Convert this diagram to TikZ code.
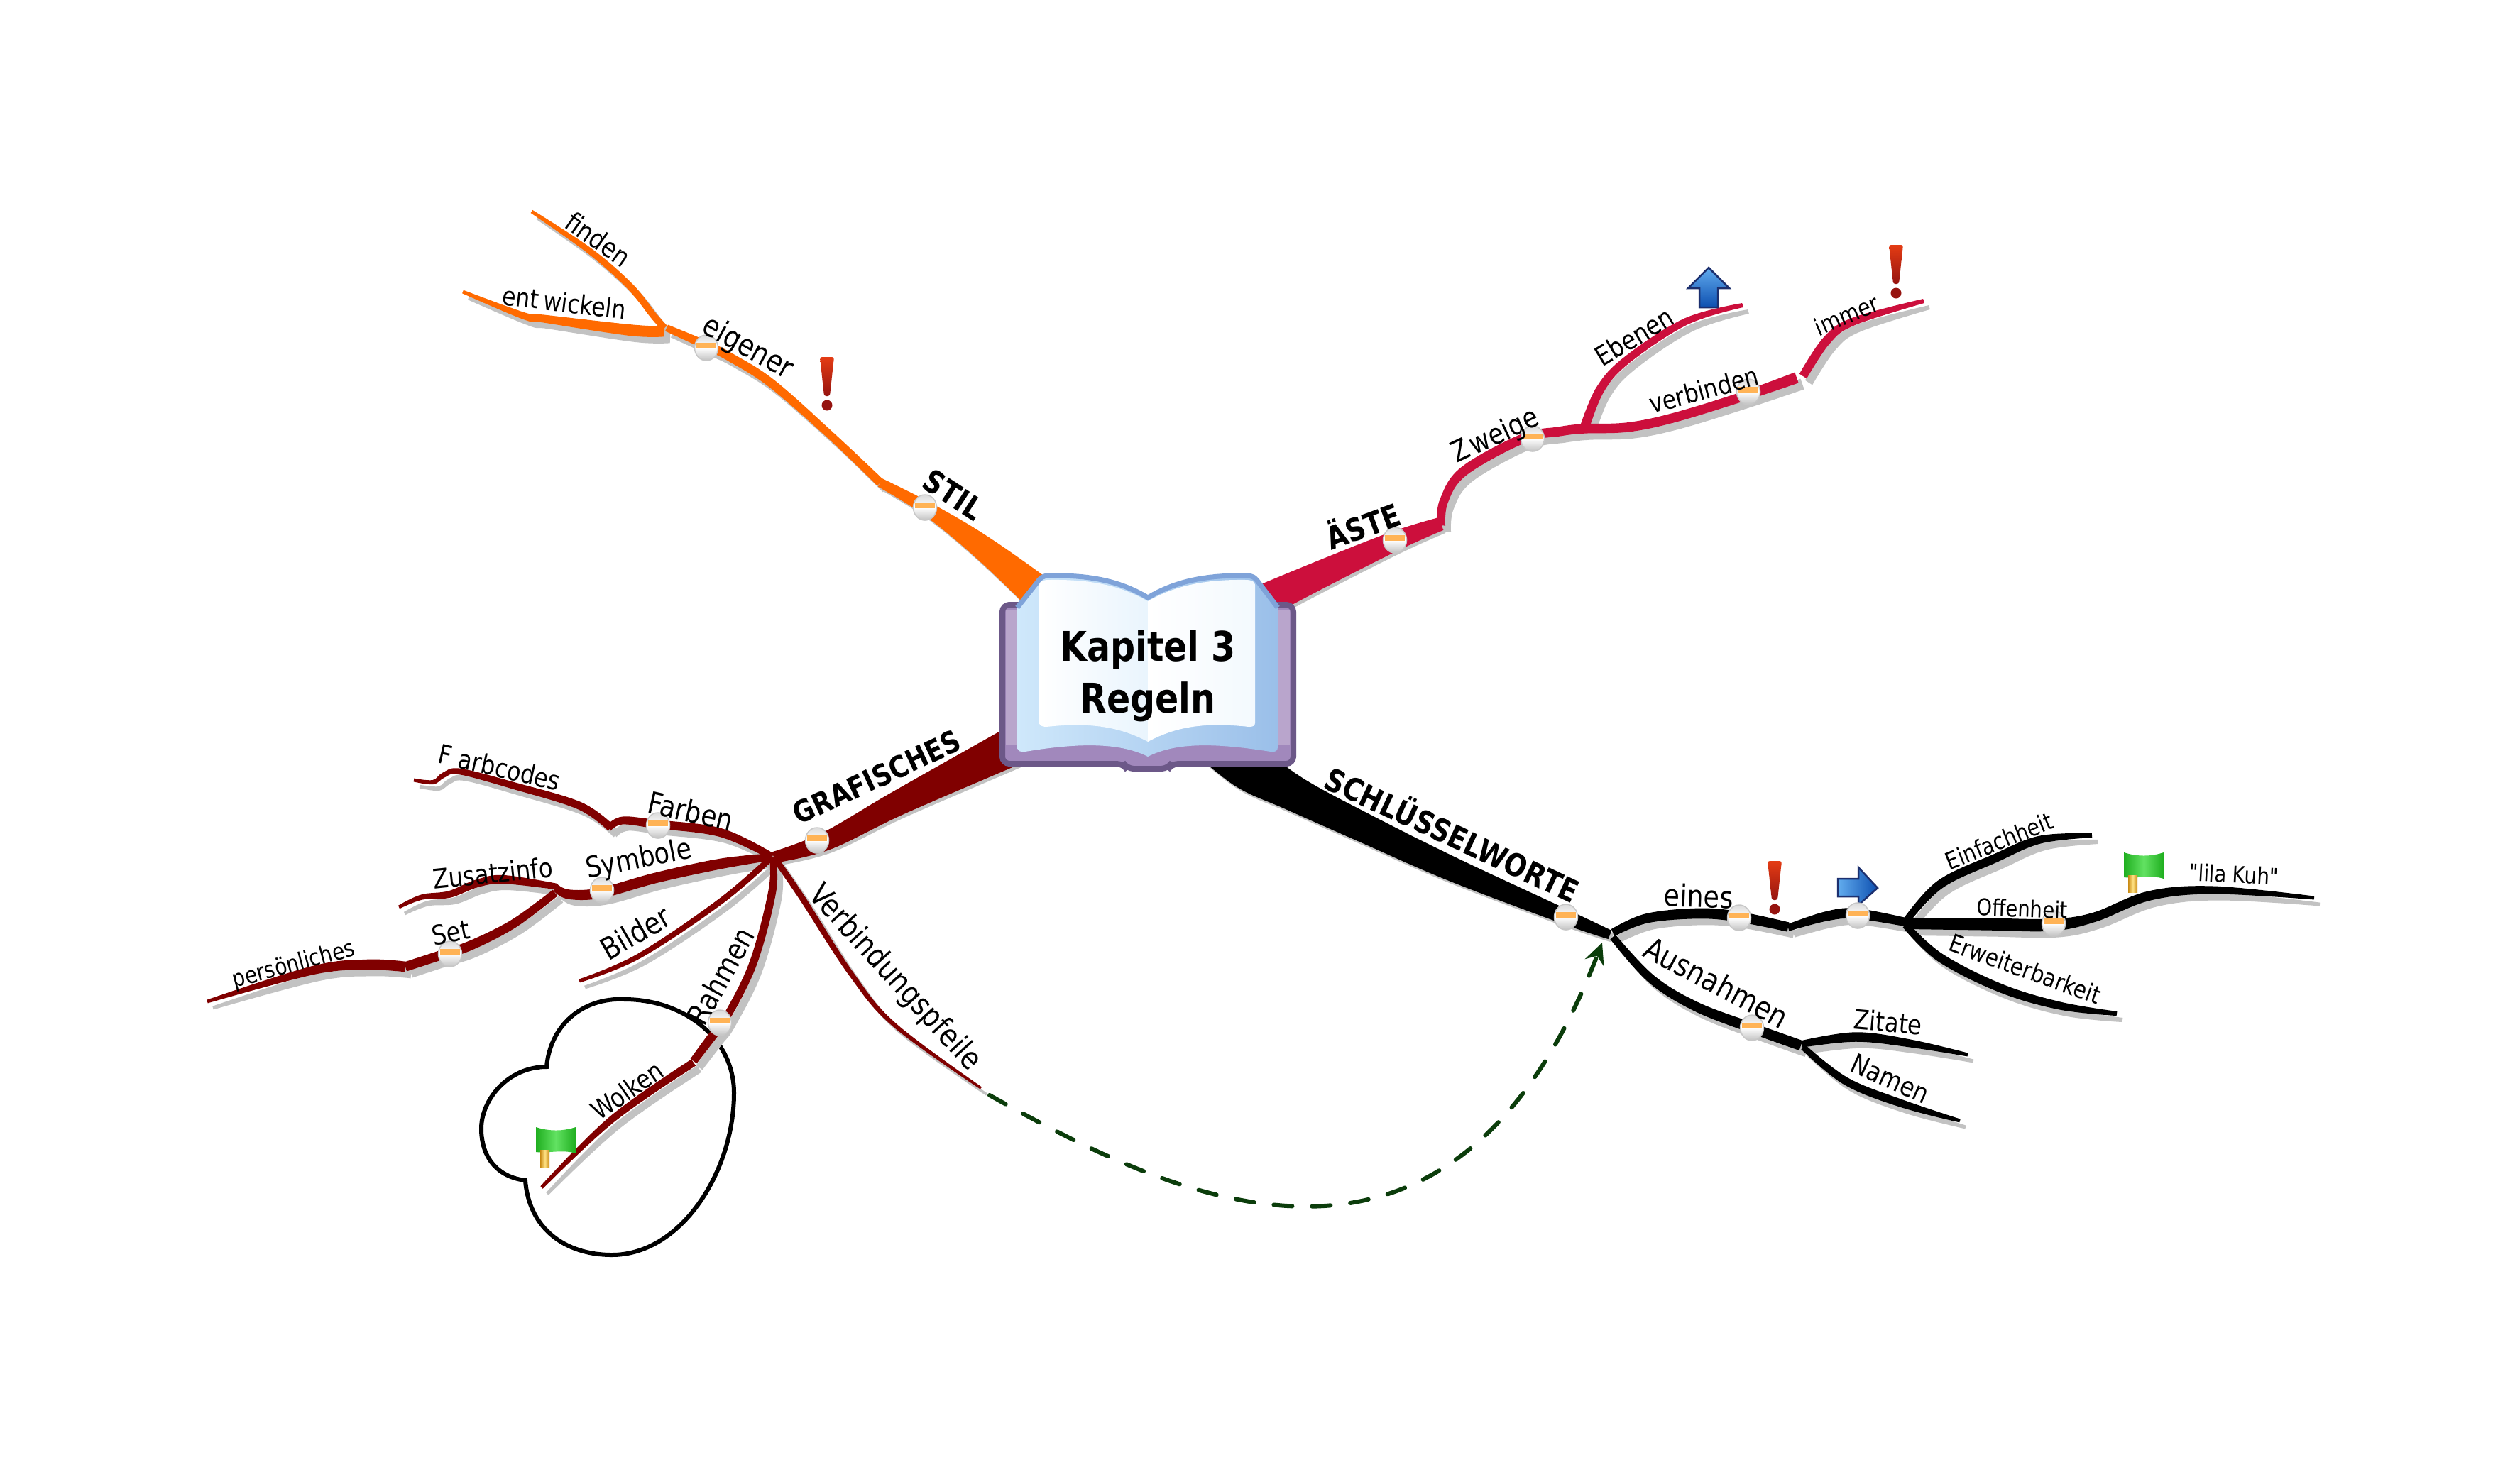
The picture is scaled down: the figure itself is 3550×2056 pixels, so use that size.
\documentclass[tikz,border=0pt]{standalone}
\usepackage{fontspec}
\usetikzlibrary{arrows.meta,shapes.geometric}
\newfontfamily\mm[FakeStretch=0.85]{DejaVu Sans}
\definecolor{cO}{HTML}{FF6A00}
\definecolor{cR}{HTML}{CC0F3C}
\definecolor{cD}{HTML}{800000}
\definecolor{cK}{HTML}{000000}
\definecolor{sh}{HTML}{C2C2C2}
\definecolor{linkg}{HTML}{0B3D0B}
\definecolor{band}{HTML}{FFB356}
\definecolor{navy}{HTML}{1C2F6E}
\definecolor{arrowA}{HTML}{62ACEE}
\definecolor{arrowB}{HTML}{0D4FB0}
\definecolor{exclA}{HTML}{E43C14}
\definecolor{exclB}{HTML}{961410}
\definecolor{flagA}{HTML}{1FAE1F}
\definecolor{flagB}{HTML}{62E262}
\definecolor{poleA}{HTML}{C98A14}
\definecolor{poleB}{HTML}{FFE284}
\tikzset{
  lab/.style={inner sep=0pt,font=\mm\fontsize{#1}{#1}\selectfont},
  labB/.style={inner sep=0pt,font=\mm\bfseries\fontsize{#1}{#1}\selectfont},
  knob/.style={ellipse,minimum width=0.33cm,minimum height=0.36cm,inner sep=0pt,draw=black!22,line width=0.015cm,
    top color=black!14,bottom color=black!24,middle color=white,
    path picture={\fill[band] ([xshift=-0.14cm,yshift=0.07cm]path picture bounding box.center) rectangle ([xshift=0.14cm,yshift=-0.01cm]path picture bounding box.center);}},
  dashlink/.style={draw=linkg,line width=0.06cm,line cap=round,dash pattern=on 0.26cm off 0.28cm},
  cloudline/.style={draw=black,line width=0.06cm},
  icon/.style={draw=navy,line width=0.025cm,line join=miter}
}
% tapered branch: colour, list of x/y/width
\newcommand\br[2]{%
  \gdef\ptsL{}\gdef\ptsR{}%
  \foreach \xa/\xb/\xc [count=\i] in {#2}{%
    \expandafter\xdef\csname bx\i\endcsname{\xa}%
    \expandafter\xdef\csname by\i\endcsname{\xb}%
    \expandafter\xdef\csname bw\i\endcsname{\xc}%
    \xdef\bn{\i}}%
  \foreach \i in {1,...,\bn}{%
    \pgfmathtruncatemacro\ip{max(\i-1,1)}%
    \pgfmathtruncatemacro\inx{min(\i+1,\bn)}%
    \pgfmathsetmacro\brdx{\csname bx\inx\endcsname-\csname bx\ip\endcsname}%
    \pgfmathsetmacro\brdy{\csname by\inx\endcsname-\csname by\ip\endcsname}%
    \pgfmathsetmacro\brl{max(veclen(\brdx,\brdy),0.01)}%
    \pgfmathsetmacro\brox{-\brdy/\brl*\csname bw\i\endcsname*\brk/2}%
    \pgfmathsetmacro\broy{\brdx/\brl*\csname bw\i\endcsname*\brk/2}%
    \pgfmathsetmacro\lx{\csname bx\i\endcsname+\brox}%
    \pgfmathsetmacro\ly{\csname by\i\endcsname+\broy}%
    \pgfmathsetmacro\rx{\csname bx\i\endcsname-\brox}%
    \pgfmathsetmacro\ry{\csname by\i\endcsname-\broy}%
    \xdef\ptsL{\ptsL (\lx,\ly)}%
    \xdef\ptsR{(\rx,\ry) \ptsR}}%
  \edef\brdo{\noexpand\fill[#1] plot[smooth,tension=0.6] coordinates {\ptsL} -- plot[smooth,tension=0.6] coordinates {\ptsR} -- cycle;}%
  \brdo}
\newcommand\thinbranches{%
  \def\brk{1.22}%
  \br{cO}{1240/680/10,1174/617/9,1088/541/10,1030/504/10,996/487/10,939/462/8}%
  \br{cO}{936/462/8,921/445/8,887/403/8,830/353/7,749/298/4}%
  \br{cO}{936/467/12,887/465/13,766/449/9,738/445/8,652/411/4}%
  \br{cR}{2030/740/10,2034/706/10,2062/664/11,2145/618/11,2196/608/11,2231/604/11,2292/602/11,2356/589/11,2451/560/11,2531/532/13}%
  \br{cR}{2231/606/11,2254/549/10,2292/507/9,2375/453/8,2455/430/5}%
  \br{cR}{2540/530/10,2573/480/10,2611/453/9,2710/424/5}%
  \br{cD}{1088/1207/8,1015/1173/10,923/1161/10,877/1156/9,858/1166/8}%
  \br{cD}{860/1166/9,816/1135/9,724/1107/8,648/1087/7,625/1092/6,610/1102/5,583/1099/4}%
  \br{cD}{1088/1207/8,1015/1217/12,923/1237/12,847/1258/12,801/1260/11,782/1250/9}%
  \br{cD}{784/1249/7,709/1239/10,671/1245/9,633/1260/8,594/1264/6,562/1278/4}%
  \br{cD}{782/1258/9,724/1301/10,663/1332/11,617/1347/11,571/1362/11}%
  \br{cD}{571/1362/12,518/1359/12,441/1367/10,292/1411/4}%
  \br{cD}{1088/1207/7,1015/1270/7,900/1347/6,816/1382/4}%
  \br{cD}{1088/1207/7,1088/1255/9,1061/1357/9,1023/1434/9,1004/1459/10,977/1495/9}%
  \br{cD}{977/1497/9,862/1577/8,763/1673/4}%
  \br{cD}{1090/1207/7,1130/1265/7,1199/1372/6,1260/1444/5,1382/1533/3}%
  \br{cK}{2272/1314/9,2319/1294/11,2389/1287/12,2446/1291/12,2519/1306/11}%
  \br{cK}{2519/1307/8,2572/1291/11,2614/1287/12,2684/1299/10}%
  \br{cK}{2684/1301/13,2796/1302/14,2891/1303/14,2951/1292/11,3028/1262/11,3119/1254/9,3260/1265/4}%
  \br{cK}{2684/1299/8,2733/1246/10,2811/1209/10,2874/1183/9,2947/1177/5}%
  \br{cK}{2684/1303/8,2733/1349/10,2818/1392/10,2902/1417/9,2982/1428/5}%
  \br{cK}{2272/1320/8,2326/1379/10,2389/1418/11,2467/1448/12,2537/1473/12}%
  \br{cK}{2538/1471/8,2614/1461/11,2691/1470/9,2772/1486/4}%
  \br{cK}{2540/1475/7,2600/1523/9,2677/1554/9,2761/1579/4}%
}
\newcommand\mainbranches{%
  \def\brk{1}%
  \br{cO}{1510/880/60,1451/826/47,1373/763/32,1303/715/19,1240/680/13}%
  \br{cR}{1740/870/55,1799/838/45,1954/767/29,2030/738/19}%
  \br{cD}{1090/1208/16,1164/1185/26,1264/1132/35,1415/1057/53,1480/1025/60}%
  \br{cK}{1700/1020/85,1761/1080/69,1823/1118/50,1925/1168/41,2047/1225/34,2206/1292/21,2268/1317/13}%
}
\newcommand\exclaim[2]{%
  \begin{scope}[shift={(#1,#2)}]
    \path[top color=exclA,bottom color=exclB,rounded corners=0.03cm]
      (-10,0) -- (10,0) -- (4,55) -- (-4,55) -- cycle;
    \path[fill=exclB] (0,68) circle [radius=0.075cm];
  \end{scope}}
\newcommand\greenflag[2]{%
  \begin{scope}[shift={(#1,#2)}]
    \path[left color=flagA,right color=flagA,middle color=flagB]
      (0,0) .. controls (18,6) and (38,6) .. (56,0) -- (56,37) .. controls (38,31) and (18,37) .. (0,35) -- cycle;
    \path[left color=poleA,right color=poleA,middle color=poleB]
      (6,32) rectangle (19,56);
  \end{scope}}
\begin{document}
\begin{tikzpicture}[x=0.01cm,y=-0.01cm]
\useasboundingbox[fill=white] (0,0) rectangle (3550,2056);
% cloud boundary
\draw[cloudline] (770,1503) .. controls (715,1503) and (678,1550) .. (678,1590) .. controls (678,1630) and (700,1658) .. (740,1663)
  .. controls (745,1730) and (795,1768) .. (862,1768) .. controls (960,1768) and (1034,1650) .. (1034,1540)
  .. controls (1034,1460) and (960,1408) .. (880,1408) .. controls (820,1405) and (775,1445) .. (770,1503) -- cycle;
% shadows
\begin{scope}[shift={(8,9)}]
  \colorlet{cO}{sh}\colorlet{cR}{sh}\colorlet{cD}{sh}\colorlet{cK}{sh}
  \thinbranches
\end{scope}
\begin{scope}[shift={(3,4)}]
  \colorlet{cO}{sh}\colorlet{cR}{sh}\colorlet{cD}{sh}\colorlet{cK}{sh}
  \mainbranches
\end{scope}
% branches
\mainbranches
\thinbranches
\coordinate (vpEnd) at (1394,1543);
\coordinate (hubK) at (2257,1328);
\draw[dashlink,-{Stealth[length=0.3cm,width=0.28cm,inset=0.1cm]}] (vpEnd) .. controls (1640,1680) and (2040,1890) .. (hubK);
% book
\definecolor{bookedgeB}{HTML}{6C5888}\definecolor{coverA}{HTML}{B9A5CC}\definecolor{coverB}{HTML}{A188BC}
\draw[rounded corners=0.1cm,draw=bookedgeB,line width=0.08cm,fill=coverB]
  (1412,852) -- (1822,852) -- (1822,1076) -- (1650,1076) -- (1646,1083) -- (1587,1083) -- (1583,1076) -- (1412,1076) -- cycle;
\fill[coverA] (1417,860) rectangle (1433,1050);
\fill[coverA] (1800,860) rectangle (1817,1050);
\definecolor{pageA}{HTML}{CFE8FB}\definecolor{pageB}{HTML}{9ABFE9}\definecolor{pageEdge}{HTML}{7FA3D9}
\path[left color=pageA,right color=pageB]
  (1433,856) -- (1460,822) .. controls (1466,813) and (1470,811) .. (1478,811) .. controls (1540,810) and (1580,820) .. (1617,842) .. controls (1654,820) and (1695,810) .. (1756,811) .. controls (1764,811) and (1768,813) .. (1774,822) -- (1800,856) -- (1800,1053) .. controls (1800,1058) and (1796,1060) .. (1790,1059) .. controls (1720,1048) and (1660,1044) .. (1617,1066) .. controls (1574,1044) and (1510,1048) .. (1444,1059) .. controls (1438,1060) and (1433,1058) .. (1433,1053) -- cycle;
\draw[pageEdge,line width=0.07cm]
  (1433,856) -- (1460,822) .. controls (1466,813) and (1470,811) .. (1478,811) .. controls (1540,810) and (1580,820) .. (1617,842) .. controls (1654,820) and (1695,810) .. (1756,811) .. controls (1764,811) and (1768,813) .. (1774,822) -- (1800,856);
\path[left color=white,right color=pageA!45!white]
  (1464,824) .. controls (1464,819) and (1470,817) .. (1478,817) .. controls (1540,816) and (1580,826) .. (1617,847) -- (1617,1045) .. controls (1574,1022) and (1530,1018) .. (1474,1024) .. controls (1468,1024) and (1464,1022) .. (1464,1018) -- cycle;
\path[left color=white,right color=pageA!25!white]
  (1768,824) .. controls (1768,819) and (1762,817) .. (1756,817) .. controls (1695,816) and (1654,826) .. (1617,847) -- (1617,1045) .. controls (1660,1022) and (1700,1018) .. (1760,1024) .. controls (1766,1024) and (1768,1022) .. (1768,1018) -- cycle;
\node[labB=16.4,align=center] (title) at (1617,952) {Kapitel 3\\[4.4pt]Regeln};
% icons
\exclaim{1165}{503}
\exclaim{2671}{345}
\exclaim{2500}{1213}
\path[icon,top color=arrowA,bottom color=arrowB]
  (2407,377) -- (2436,406) -- (2420,406) -- (2420,433) -- (2394,433) -- (2394,406) -- (2378,406) -- cycle;
\path[icon,left color=arrowA,right color=arrowB]
  (2645,1251) -- (2618,1275) -- (2618,1263) -- (2589,1263) -- (2589,1238) -- (2618,1238) -- (2618,1222) -- cycle;
\greenflag{755}{1588}
\greenflag{2992}{1201}
% knobs
\node[knob] (kStil) at (1303,715) {};
\node[knob] (kEigener) at (995,490) {};
\node[knob] (kAeste) at (1965,761) {};
\node[knob] (kZweige) at (2159,618) {};
\node[knob] (kVerbinden) at (2463,552) {};
\node[knob] (kGrafisches) at (1151,1184) {};
\node[knob] (kFarben) at (927,1163) {};
\node[knob] (kSymbole) at (848,1254) {};
\node[knob] (kSet) at (634,1344) {};
\node[knob] (kRahmen) at (1014,1441) {};
\node[knob] (kSchluessel) at (2206,1292) {};
\node[knob] (kEines) at (2450,1293) {};
\node[knob] (kArrow) at (2617,1290) {};
\node[knob] (kOffenheit) at (2893,1301) {};
\node[knob] (kAusnahmen) at (2468,1448) {};
% labels
\node[labB=12.5,rotate=-33] (lStil) at (1343,697) {STIL};
\node[labB=12.5,rotate=20] (lAeste) at (1919,738) {ÄSTE};
\node[labB=12,rotate=25] (lGrafisches) at (1235,1095) {GRAFISCHES};
\node[labB=12.5,rotate=-25] (lSchluessel) at (2047,1173) {SCHLÜSSELWORTE};
\node[lab=12.2,rotate=-29] (lEigener) at (1053,491) {eigener};
\node[lab=10.8,rotate=-35] (lFinden) at (843,337) {finden};
\node[lab=10.5,rotate=-7] (lEnt) at (795,426) {ent\kern2pt wickeln};
\node[lab=10.8,rotate=31] (lEbenen) at (2302,474) {Ebenen};
\node[lab=10.5,rotate=15] (lVerbinden) at (2400,549) {verbinden};
\node[lab=9.7,rotate=23] (lImmer) at (2601,444) {immer};
\node[lab=12,rotate=-13] (lFarben) at (973,1143) {Farben};
\node[lab=11.6,rotate=11] (lSymbole) at (900,1212) {Symbole};
\node[lab=10.8,rotate=6] (lZusatz) at (694,1230) {Zusatzinfo};
\node[lab=10.8,rotate=11] (lSet) at (635,1314) {Set};
\node[lab=9.4,rotate=15] (lPers) at (414,1360) {persönliches};
\node[lab=12.2,rotate=30] (lBilder) at (895,1314) {Bilder};
\node[lab=12,rotate=61] (lRahmen) at (1015,1375) {Rahmen};
\node[lab=10.5,rotate=35] (lWolken) at (883,1536) {Wolken};
\node[lab=12.2,rotate=-2] (lEines) at (2393,1262) {eines};
\node[lab=10.8,rotate=-5] (lZitate) at (2660,1440) {Zitate};
\node[lab=9.2,rotate=-2] (lOffen) at (2849,1280) {Offenheit};
\node[lab=9.2,rotate=-3] (lLila) at (3147,1232) {"lila Kuh"};
\node[lab=12.5,rotate=-47.5] (lVerb) at (1260,1378) {Verbindungspfeile};
\node[lab=12.5,rotate=-28] (lAus) at (2418,1384) {Ausnahmen};
\node[lab=9.8,rotate=-20] (lErw) at (2853,1365) {Erweiterbarkeit};
\node[lab=9.5,rotate=22] (lEinf) at (2816,1185) {Einfachheit};
\node[lab=10.8,rotate=-24] (lNamen) at (2663,1520) {Namen};
\node[lab=10.6,rotate=-13] (lFarbc) at (704,1081) {F\kern3pt arbcodes};
\node[lab=11.6,rotate=25] (lZweige) at (2107,615) {Z\kern1pt weige};
\end{tikzpicture}
\end{document}
